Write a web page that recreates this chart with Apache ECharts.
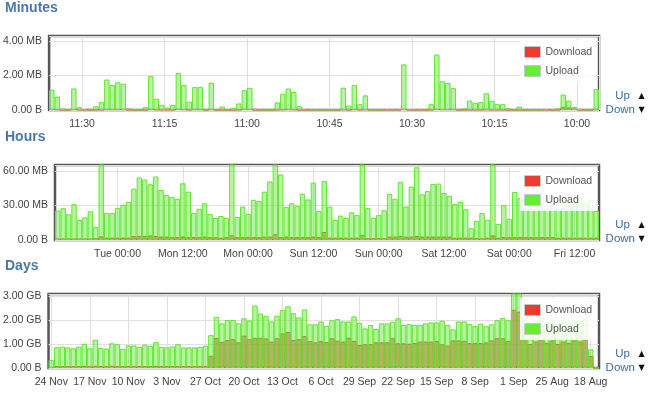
<!DOCTYPE html>
<html><head><meta charset="utf-8">
<script src="https://cdn.jsdelivr.net/npm/echarts@6/dist/echarts.min.js"></script>
<style>html,body{margin:0;padding:0;background:#fff}#c{width:651px;height:393px}</style>
</head><body><div id="c"></div>
<script>
// ---------- DATA ----------
// Minutes panel (MB), newest (11:36) on the left, one bar per minute
const minutesUpload = [
 1.18,0.78,0.08,0.02,1.25,0.16,0.05,0.01,0.22,0.46,
 1.77,1.45,1.61,1.53,0.10,0.02,0.02,0.16,1.97,0.66,
 0.30,0.14,0.30,2.15,1.45,0.48,1.33,1.35,0.02,1.59,
 0.02,0.20,0.03,0.10,0.38,1.15,1.29,0.07,0.02,0.01,
 0.01,0.44,0.94,1.25,1.05,0.22,0.06,0.02,0.02,0.02,
 0.02,0.02,0.02,1.30,0.26,1.45,0.34,0.85,0.02,0.02,
 0.02,0.05,0.02,0.07,2.65,0.05,0.02,0.05,0.02,0.34,
 3.22,1.67,1.57,1.27,0.02,0.10,0.54,0.42,0.46,0.97,
 0.54,0.34,0.34,0.10,0.02,0.20,0.02,0.02,0.01,0.02,
 0.05,0.03,0.10,0.90,0.54,0.18,0.05,0.02,0.02,1.21];
const minutesDownload = [
 0.05,0.04,0.02,0.01,0.05,0.03,0.02,0.01,0.02,0.03,
 0.05,0.05,0.05,0.05,0.02,0.01,0.01,0.02,0.06,0.04,
 0.03,0.02,0.03,0.06,0.05,0.03,0.05,0.05,0.01,0.05,
 0.01,0.02,0.01,0.02,0.03,0.06,0.06,0.02,0.01,0.01,
 0.01,0.03,0.04,0.05,0.04,0.02,0.02,0.01,0.01,0.01,
 0.01,0.01,0.01,0.04,0.02,0.05,0.03,0.04,0.01,0.01,
 0.01,0.02,0.01,0.02,0.06,0.02,0.01,0.02,0.01,0.03,
 0.06,0.05,0.05,0.05,0.01,0.02,0.03,0.03,0.03,0.04,
 0.03,0.03,0.03,0.02,0.01,0.02,0.01,0.01,0.01,0.01,
 0.02,0.01,0.02,0.18,0.15,0.08,0.02,0.01,0.01,0.05];
const minutesXTicks = ['11:30','11:15','11:00','10:45','10:30','10:15','10:00'];
const minutesYLabels = ['0.00 B','2.00 MB','4.00 MB'];

// Hours panel (MB), newest (Tue 11:00) on the left
const hoursUpload = [
 25.6,27.7,22.4,31.2,17.4,19.7,25.0,11.2,75,23.5,
 23.5,28.0,30.6,33.2,44.7,54.4,52.7,48.5,55.3,43.5,
 39.1,37.6,35.9,49.4,42.1,23.5,27.1,32.0,22.6,19.2,
 20.9,19.2,75,20.0,29.1,22.6,35.0,34.1,42.1,50.9,
 70,57.1,28.8,32.0,29.7,40.3,35.3,50.0,25.3,51.2,
 29.1,17.4,21.2,19.2,24.1,21.8,68,27.7,19.4,21.8,
 25.9,40.0,35.9,50.6,29.1,46.5,63.3,39.7,42.6,48.8,
 49.1,40.9,38.5,31.2,33.2,26.8,10.3,16.8,23.5,17.7,
 72,14.1,30.3,18.5,41.8,36.5,28,27,27,28,
 27,28,27,28,30,32,36,33,35,25.3];
const hoursDownload = [
 1.2,1.2,1.2,1.2,1.2,1.2,1.2,1.5,3.2,2,
 2,2,2,2,3.5,3.5,3.5,4,3.5,3,
 3,2.5,2.5,3,2.5,2.5,2.5,3,2.5,2.5,
 2,2.5,4,2.5,2.5,2.5,2.5,2.5,3,3,
 5,2.5,3,2.5,2.5,2.5,2.5,3,2.5,7,
 2,2,2,2,2,2,4.5,1.5,1.5,1.5,
 1.5,3,3,3.5,3,3,3.5,3,3,3,
 3,3,3,2,2,2,2,1.5,1.5,2,
 4,2,2.5,2.5,2.5,2.5,2.5,2.5,2.5,2.5,
 2.5,2.5,2,2,2,2,2,2,2,2];
const hoursXTicks = ['Tue 00:00','Mon 12:00','Mon 00:00','Sun 12:00','Sun 00:00','Sat 12:00','Sat 00:00','Fri 12:00'];
const hoursYLabels = ['0.00 B','30.00 MB','60.00 MB'];

// Days panel (GB), newest (24 Nov) on the left
const daysUpload = [
 0.33,0.86,0.89,0.86,0.82,0.89,1.01,0.82,1.18,0.83,
 0.81,1.03,0.99,0.79,0.94,0.94,0.88,0.97,0.92,1.08,
 0.88,0.86,0.90,0.99,0.85,0.86,0.86,0.88,0.93,1.37,
 2.13,1.86,2.00,2.00,1.86,2.07,1.98,2.60,2.27,2.17,
 1.94,2.18,2.42,2.57,2.28,2.11,2.44,1.82,1.82,1.94,
 1.76,1.99,2.04,1.94,1.94,2.15,1.88,1.65,1.79,1.63,
 1.86,1.86,1.93,2.07,1.79,1.83,1.79,1.80,1.86,1.90,
 1.90,1.97,1.79,1.61,1.94,1.94,1.83,1.75,1.85,1.74,
 1.82,1.99,2.08,1.99,3.50,3.30,2.00,1.85,1.95,2.10,
 1.90,2.00,1.85,1.95,1.90,2.00,1.95,2.03,0.78,0];
const daysDownload = [
 0.04,0.08,0.08,0.08,0.08,0.08,0.09,0.08,0.09,0.08,
 0.08,0.09,0.08,0.08,0.08,0.08,0.08,0.08,0.08,0.09,
 0.08,0.08,0.08,0.08,0.08,0.08,0.08,0.08,0.08,0.51,
 1.25,1.09,1.16,1.20,1.07,1.35,1.20,1.26,1.26,1.23,
 1.10,1.24,1.44,1.50,1.17,1.20,1.33,1.12,1.07,1.12,
 1.08,1.24,1.14,1.10,1.26,1.13,0.96,0.99,0.99,1.07,
 1.07,1.07,1.24,1.03,1.03,1.01,1.04,1.10,1.10,1.10,
 1.13,0.99,0.93,1.15,1.15,1.13,1.04,1.04,1.04,1.07,
 1.15,1.24,1.24,1.13,2.42,2.35,1.20,1.00,1.10,1.20,
 1.05,1.15,1.00,1.10,1.05,1.15,1.10,1.20,0.50,0];
const daysXTicks = ['24 Nov','17 Nov','10 Nov','3 Nov','27 Oct','20 Oct','13 Oct','6 Oct','29 Sep','22 Sep','15 Sep','8 Sep','1 Sep','25 Aug','18 Aug'];
const daysYLabels = ['0.00 B','1.00 GB','2.00 GB','3.00 GB'];

const legendNames = ['Download','Upload'];
const panelTitles = ['Minutes','Hours','Days'];

// ---------- CATEGORIES ----------
const pad2 = n => (n < 10 ? '0' : '') + n;
const minutesCats = [];
for (let k = 0; k < minutesUpload.length; k++) {
  const t = 11 * 60 + 36 - k;
  minutesCats.push(Math.floor(t / 60) + ':' + pad2(t % 60));
}
const dayNames = ['Sun','Mon','Tue','Wed','Thu','Fri','Sat'];
const hoursCats = [];
for (let k = 0; k < hoursUpload.length; k++) {
  const t = 7 * 24 + 2 * 24 + 11 - k;
  hoursCats.push(dayNames[Math.floor(t / 24) % 7] + ' ' + pad2(t % 24) + ':00');
}
const monNames = ['Jan','Feb','Mar','Apr','May','Jun','Jul','Aug','Sep','Oct','Nov','Dec'];
const daysCats = [];
for (let k = 0; k < daysUpload.length; k++) {
  const d = new Date(2013, 10, 24 - k);
  daysCats.push(d.getDate() + ' ' + monNames[d.getMonth()]);
}

// ---------- LAYOUT ----------
const FONT = 'Liberation Sans, Arial, sans-serif';
const panels = [
  {cats: minutesCats, up: minutesUpload, down: minutesDownload, ticks: minutesXTicks, yLabels: minutesYLabels,
   left: 49, top: 36, width: 550, height: 74, max: 4.3, interval: 2, center: false,
   titleY: 8.5, legendTop: 40, upY: 96},
  {cats: hoursCats, up: hoursUpload, down: hoursDownload, ticks: hoursXTicks, yLabels: hoursYLabels,
   left: 55, top: 165, width: 544, height: 75, max: 65.3, interval: 30, center: true,
   titleY: 137, legendTop: 169, upY: 225},
  {cats: daysCats, up: daysUpload, down: daysDownload, ticks: daysXTicks, yLabels: daysYLabels,
   left: 48, top: 294, width: 551, height: 74, max: 3.083, interval: 1, center: true,
   titleY: 266, legendTop: 298, upY: 354}
];

const grid = [], xAxis = [], yAxis = [], series = [], legend = [], graphic = [];
panels.forEach((p, i) => {
  grid.push({left: p.left, top: p.top, width: p.width, height: p.height, show: true,
    borderColor: '#555', borderWidth: 2.5, backgroundColor: '#fff'});
  const tickSet = new Set(p.ticks);
  const pick = (idx, val) => tickSet.has(val);
  xAxis.push({type: 'category', gridIndex: i, data: p.cats, boundaryGap: true,
    axisTick: {show: false}, axisLine: {show: false},
    axisLabel: {interval: pick, color: '#444', fontSize: 10.5, fontFamily: FONT, margin: 9,
      padding: p.center ? 0 : [0, 5.5, 0, 0]},
    splitLine: {show: true, interval: pick, alignWithLabel: p.center, lineStyle: {color: '#e0e0e0', width: 1}}});
  yAxis.push({type: 'value', gridIndex: i, min: 0, max: p.max, interval: p.interval,
    axisLine: {show: false}, axisTick: {show: false},
    splitLine: {show: true, lineStyle: {color: '#e0e0e0', width: 1}},
    axisLabel: {showMaxLabel: false, color: '#444', fontSize: 10.5, fontFamily: FONT, margin: 7,
      formatter: v => { const k = Math.round(v / p.interval); return Math.abs(v - k * p.interval) < 1e-9 ? (p.yLabels[k] || '') : ''; }}});
  series.push({type: 'bar', name: legendNames[0], xAxisIndex: i, yAxisIndex: i, data: p.down,
    barGap: '-100%', barCategoryGap: '1%', z: 2,
    itemStyle: {color: 'rgba(236,40,50,0.6)', borderColor: 'rgb(236,40,50)', borderWidth: 1}});
  series.push({type: 'bar', name: legendNames[1], xAxisIndex: i, yAxisIndex: i, data: p.up,
    barGap: '-100%', barCategoryGap: '1%', z: 3,
    itemStyle: {color: 'rgba(110,232,70,0.5)', borderColor: '#62e82e', borderWidth: 1}});
  legend.push({orient: 'vertical', left: 520, top: p.legendTop, itemWidth: 16, itemHeight: 11, itemGap: 7,
    padding: [6, 5, 5, 4], backgroundColor: 'rgba(255,255,255,0.85)',
    textStyle: {color: '#555', fontSize: 10.5, fontFamily: FONT}, selectedMode: false,
    data: [
      {name: legendNames[0], icon: 'rect', itemStyle: {color: '#ee3b2f', borderColor: '#c8c8c8', borderWidth: 1, opacity: 1}},
      {name: legendNames[1], icon: 'rect', itemStyle: {color: '#66ee33', borderColor: '#c8c8c8', borderWidth: 1, opacity: 1}}
    ]});
  graphic.push({type: 'text', x: 5, y: p.titleY, style: {text: panelTitles[i], fill: '#4a78a6',
    font: 'bold 14px ' + FONT, verticalAlign: 'middle', align: 'left'}});
  graphic.push({type: 'text', x: 630, y: p.upY, style: {text: 'Up', fill: '#3a6ca3',
    font: '11.5px ' + FONT, verticalAlign: 'middle', align: 'right'}});
  graphic.push({type: 'text', x: 635, y: p.upY + 14, style: {text: 'Down', fill: '#3a6ca3',
    font: '11.5px ' + FONT, verticalAlign: 'middle', align: 'right'}});
  graphic.push({type: 'text', x: 641.5, y: p.upY, style: {text: '\u25B2', fill: '#111',
    font: '8px DejaVu Sans', verticalAlign: 'middle', align: 'center'}});
  graphic.push({type: 'text', x: 641.5, y: p.upY + 14, style: {text: '\u25BC', fill: '#111',
    font: '8px DejaVu Sans', verticalAlign: 'middle', align: 'center'}});
});

const chart = echarts.init(document.getElementById('c'), null, {renderer: 'canvas'});
chart.setOption({animation: false, backgroundColor: '#fff', grid, xAxis, yAxis, series, legend, graphic});
</script></body></html>
